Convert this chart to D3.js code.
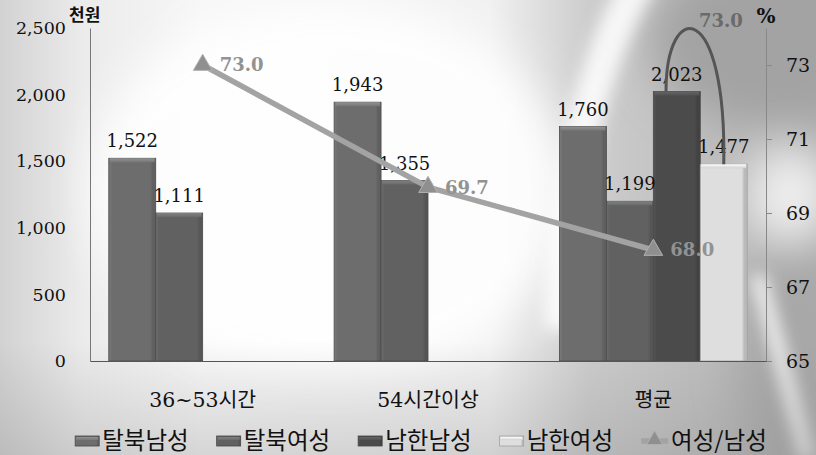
<!DOCTYPE html>
<html>
<head>
<meta charset="utf-8">
<script src="https://cdn.jsdelivr.net/npm/d3@7"></script>
<style>
  html, body { margin: 0; padding: 0; background: #ffffff; }
  svg { display: block; }
</style>
</head>
<body>
<svg id="chart" width="816" height="455"></svg>
<script>
// ---- data ----
const categories = ["36~53시간", "54시간이상", "평균"];
const seriesNames = ["탈북남성", "탈북여성", "남한남성", "남한여성"];
const nkMale   = [1522, 1943, 1760];
const nkFemale = [1111, 1355, 1199];
const skMale   = [null, null, 2023];
const skFemale = [null, null, 1477];
const ratioName = "여성/남성";
const ratio = [73.0, 69.7, 68.0];
const leftTicks = [0, 500, 1000, 1500, 2000, 2500];
const rightTicks = [65, 67, 69, 71, 73];
const leftUnit = "천원";
const rightUnit = "%";

const seriesValues = [nkMale, nkFemale, skMale, skFemale];
const seriesColors = ["#6d6d6d", "#616161", "#4b4b4b", "#dedede"];

// ---- frame ----
const W = 816, H = 455;
const plot = { left: 90, right: 766, top: 28, bottom: 361 };
const svg = d3.select("#chart");
const defs = svg.append("defs");

// ---- backdrop: soft grey photographic wash ----
const bgGrad = defs.append("linearGradient").attr("id", "bgBase")
  .attr("x1", 0).attr("x2", 1).attr("y1", 0).attr("y2", 0);
[[0, "#d2d2d2"], [0.1, "#ebebeb"], [0.25, "#f7f7f7"], [0.6, "#f1f1f1"],
 [0.72, "#cdcdcd"], [1, "#b0b0b0"]].forEach(([o, c]) =>
  bgGrad.append("stop").attr("offset", o).attr("stop-color", c));
const bgShade = defs.append("linearGradient").attr("id", "bgShade")
  .attr("x1", 0).attr("x2", 0).attr("y1", 0).attr("y2", 1);
bgShade.append("stop").attr("offset", 0.75).attr("stop-color", "#888").attr("stop-opacity", 0);
bgShade.append("stop").attr("offset", 1).attr("stop-color", "#888").attr("stop-opacity", 0.3);

const blurBig = defs.append("filter").attr("id", "blurBig")
  .attr("x", "-50%").attr("y", "-50%").attr("width", "200%").attr("height", "200%");
blurBig.append("feGaussianBlur").attr("stdDeviation", 22);
const blurMid = defs.append("filter").attr("id", "blurMid")
  .attr("x", "-50%").attr("y", "-50%").attr("width", "200%").attr("height", "200%");
blurMid.append("feGaussianBlur").attr("stdDeviation", 8);

const bg = svg.append("g").attr("class", "backdrop");
bg.append("rect").attr("width", W).attr("height", H).attr("fill", "url(#bgBase)");
bg.append("ellipse").attr("cx", 330).attr("cy", 190).attr("rx", 240).attr("ry", 190)
  .attr("fill", "#ffffff").attr("opacity", 0.9).attr("filter", "url(#blurBig)");
bg.append("ellipse").attr("cx", 770).attr("cy", 40).attr("rx", 120).attr("ry", 85)
  .attr("fill", "#a3a3a3").attr("filter", "url(#blurBig)");
bg.append("ellipse").attr("cx", 800).attr("cy", 360).attr("rx", 60).attr("ry", 120)
  .attr("fill", "#a8a8a8").attr("filter", "url(#blurBig)");
bg.append("path").attr("d", "M640,-20 Q565,110 560,330")
  .attr("fill", "none").attr("stroke", "#ffffff").attr("stroke-width", 34)
  .attr("opacity", 0.85).attr("filter", "url(#blurMid)");
bg.append("ellipse").attr("cx", 790).attr("cy", 195).attr("rx", 45).attr("ry", 50)
  .attr("fill", "#eeeeee").attr("filter", "url(#blurBig)");
bg.append("path").attr("d", "M758,275 L808,460")
  .attr("fill", "none").attr("stroke", "#ffffff").attr("stroke-width", 16)
  .attr("opacity", 0.8).attr("filter", "url(#blurMid)");
bg.append("rect").attr("width", W).attr("height", H).attr("fill", "url(#bgShade)");

// ---- scales ----
const x = d3.scaleBand().domain(categories).range([plot.left, plot.right])
  .paddingInner(0).paddingOuter(0);
const xs = d3.scaleBand().domain(seriesNames).range([0, x.bandwidth()])
  .paddingInner(0).paddingOuter(0.4);
const yL = d3.scaleLinear().domain([0, 2500]).range([plot.bottom, plot.top]);
const yR = d3.scaleLinear().domain([65, 74]).range([plot.bottom, plot.top]);

// ---- bar fills with bevelled look ----
function shade(c, k) { return d3.color(c).brighter(k).formatHex(); }
seriesColors.forEach((c, i) => {
  const g = defs.append("linearGradient").attr("id", "bar" + i)
    .attr("x1", 0).attr("x2", 1).attr("y1", 0).attr("y2", 0);
  const light = i === 3 ? shade(c, 0.08) : shade(c, 0.35);
  const dark = i === 3 ? d3.color(c).darker(0.5).formatHex() : d3.color(c).darker(0.35).formatHex();
  [[0, light], [0.07, c], [0.88, c], [0.94, dark], [1, dark]].forEach(([o, col]) =>
    g.append("stop").attr("offset", o).attr("stop-color", col));
  const t = defs.append("linearGradient").attr("id", "barTop" + i)
    .attr("x1", 0).attr("x2", 0).attr("y1", 0).attr("y2", 1);
  t.append("stop").attr("offset", 0).attr("stop-color", i === 3 ? "#ffffff" : shade(c, 0.8));
  t.append("stop").attr("offset", 1).attr("stop-color", i === 3 ? "#d0d0d0" : shade(c, 0.25));
});

const barData = [];
categories.forEach((cat, ci) => {
  seriesNames.forEach((s, si) => {
    const v = seriesValues[si][ci];
    if (v != null) barData.push({ cat, s, si, v });
  });
});

// ---- axes ----
const fmt = d3.format(",");
const numFont = "'DejaVu Serif', serif";
const krFont = "'Noto Sans CJK KR', 'Noto Sans', sans-serif";

const axL = svg.append("g").attr("transform", `translate(${plot.left},0)`)
  .call(d3.axisLeft(yL).tickValues(leftTicks).tickFormat(fmt).tickSize(0).tickPadding(24));
axL.select(".domain").attr("stroke", "#777");
axL.selectAll("text").attr("font-family", numFont).attr("font-size", 17.5).attr("fill", "#111");

const axR = svg.append("g").attr("transform", `translate(${plot.right},0)`)
  .call(d3.axisRight(yR).tickValues(rightTicks).tickSizeInner(6).tickSizeOuter(0).tickPadding(14));
axR.select(".domain").attr("stroke", "#888");
axR.selectAll(".tick line").attr("stroke", "#888");
axR.selectAll("text").attr("font-family", numFont).attr("font-size", 19).attr("fill", "#111");

// ---- bars ----
const bars = svg.append("g");
const bar = bars.selectAll("g.bar").data(barData).join("g").attr("class", "bar")
  .attr("transform", d => `translate(${x(d.cat) + xs(d.s)},${yL(d.v)})`);
bar.append("rect")
  .attr("width", xs.bandwidth()).attr("height", d => yL(0) - yL(d.v))
  .attr("fill", d => `url(#bar${d.si})`)
  .attr("stroke", d => d.si === 3 ? "#a0a0a0" : "#4a4a4a").attr("stroke-width", 0.8);
bar.append("rect")
  .attr("x", 1).attr("width", xs.bandwidth() - 2).attr("height", 4)
  .attr("fill", d => `url(#barTop${d.si})`);

// bottom axis
const axB = svg.append("g").attr("transform", `translate(0,${plot.bottom})`)
  .call(d3.axisBottom(x).tickSize(0).tickSizeOuter(0).tickPadding(31));
axB.select(".domain").attr("stroke", "#555");
axB.selectAll("text").attr("font-family", "'DejaVu Serif', 'Noto Sans CJK KR', serif")
  .attr("font-size", 20.5).attr("fill", "#111");

// bar value labels
svg.append("g").selectAll("text").data(barData).join("text")
  .attr("x", d => x(d.cat) + xs(d.s) + xs.bandwidth() / 2)
  .attr("y", d => yL(d.v) - 11)
  .attr("text-anchor", "middle")
  .attr("font-family", numFont).attr("font-size", 18).attr("fill", "#111")
  .text(d => fmt(d.v));

// ---- ratio line ----
const ptX = (c) => x(c) + x.bandwidth() / 2;
const pts = categories.map((c, i) => ({ c, v: ratio[i] }));
svg.append("path").datum(pts)
  .attr("d", d3.line().x(d => ptX(d.c)).y(d => yR(d.v)))
  .attr("fill", "none").attr("stroke", "#a3a3a3").attr("stroke-width", 5.5)
  .attr("stroke-linecap", "round");
svg.append("g").selectAll("path").data(pts).join("path")
  .attr("transform", d => `translate(${ptX(d.c)},${yR(d.v)})`)
  .attr("d", d3.symbol(d3.symbolTriangle, 150))
  .attr("fill", "#8f8f8f").attr("stroke", "#b0b0b0").attr("stroke-width", 1);
svg.append("g").selectAll("text").data(pts).join("text")
  .attr("x", d => ptX(d.c) + 17).attr("y", d => yR(d.v)).attr("dy", "0.36em")
  .attr("font-family", numFont).attr("font-weight", "bold").attr("font-size", 18)
  .attr("fill", "#929292")
  .text(d => d.v.toFixed(1));

// ---- ratio callout between 남한남성 and 남한여성 ----
const avg = categories[2];
const sx = x(avg) + xs(seriesNames[2]) + xs.bandwidth() * 0.27, sy = yL(skMale[2]);
const ex = x(avg) + xs(seriesNames[3]) + xs.bandwidth() / 2, ey = yL(skFemale[2]);
svg.append("path")
  .attr("d", `M${sx},${sy} C${sx},${plot.top - 30} ${ex + 3},${plot.top - 30} ${ex},${ey}`)
  .attr("fill", "none").attr("stroke", "#555").attr("stroke-width", 3);
svg.append("text")
  .attr("x", (sx + ex) / 2 + 26).attr("y", 21).attr("dy", "0.36em")
  .attr("text-anchor", "middle")
  .attr("font-family", numFont).attr("font-weight", "bold").attr("font-size", 18)
  .attr("fill", "#6a6a6a")
  .text((skFemale[2] / skMale[2] * 100).toFixed(1));

// ---- unit labels ----
svg.append("text").attr("x", 69).attr("y", 21)
  .attr("font-family", krFont).attr("font-weight", "bold").attr("font-size", 17)
  .attr("fill", "#111").text(leftUnit);
svg.append("text").attr("x", plot.right).attr("y", 23).attr("text-anchor", "middle")
  .attr("font-family", numFont).attr("font-weight", "bold").attr("font-size", 20)
  .attr("fill", "#111").text(rightUnit);

// ---- legend ----
const legendItems = seriesNames.map((n, i) => ({ name: n, kind: "bar", i }))
  .concat([{ name: ratioName, kind: "line" }]);
const legend = svg.append("g");
const legendY = 441;
const items = legend.selectAll("g").data(legendItems).join("g");
items.each(function (d) {
  const g = d3.select(this);
  if (d.kind === "bar") {
    g.append("rect").attr("x", 0).attr("y", -5).attr("width", 24).attr("height", 10)
      .attr("fill", `url(#bar${d.i})`)
      .attr("stroke", d.i === 3 ? "#a0a0a0" : "#444").attr("stroke-width", 0.8);
    g.append("rect").attr("x", 1).attr("y", -4).attr("width", 22).attr("height", 3)
      .attr("fill", `url(#barTop${d.i})`);
  } else {
    g.append("line").attr("x1", 0).attr("x2", 27).attr("y1", 0).attr("y2", 0)
      .attr("stroke", "#a3a3a3").attr("stroke-width", 5.5);
    g.append("path").attr("transform", "translate(13.5,-1)")
      .attr("d", d3.symbol(d3.symbolTriangle, 110))
      .attr("fill", "#8f8f8f").attr("stroke", "#b0b0b0");
  }
  g.append("text").attr("x", d.kind === "bar" ? 27 : 30).attr("y", 0).attr("dy", "0.36em")
    .attr("font-family", krFont).attr("font-size", 23.5).attr("fill", "#111")
    .text(d.name);
});
let cursor = 0;
const widths = [];
items.each(function () { widths.push(this.getBBox().width); });
const gap = 28;
const total = d3.sum(widths) + gap * (widths.length - 1);
cursor = 421 - total / 2;
items.attr("transform", (d, i) => {
  const t = `translate(${cursor},${legendY})`;
  cursor += widths[i] + gap;
  return t;
});
</script>
</body>
</html>
